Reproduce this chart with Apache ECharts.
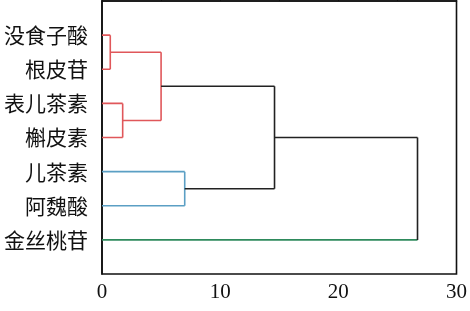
<!DOCTYPE html>
<html>
<head>
<meta charset="utf-8">
<script src="https://cdn.jsdelivr.net/npm/echarts@6/dist/echarts.min.js"></script>
<style>
  html, body { margin: 0; padding: 0; background: #fff; }
  #chart { width: 470px; height: 311px; }
</style>
</head>
<body>
<div id="chart"></div>
<script>
// leaves, top to bottom
const leaves = ["没食子酸", "根皮苷", "表儿茶素", "槲皮素", "儿茶素", "阿魏酸", "金丝桃苷"]
// merges: child a, child b (leaf index or 7+ for earlier merges), distance, cluster
const mergeA = [0, 2, 7, 4, 9, 11]
const mergeB = [1, 3, 8, 5, 10, 6]
const mergeDist = [0.7, 1.75, 5.0, 7.0, 14.6, 26.7]
const mergeGroup = ["red", "red", "red", "blue", "top", "top"]
const xTicks = [0, 10, 20, 30]

const groupColors = { red: "#e0575a", blue: "#5b9fc4", top: "#222222" }
const leafColors = { "金丝桃苷": "#2e8a5c" }

document.addEventListener("DOMContentLoaded", () => {
    const el = document.getElementById("chart")
    const chart = echarts.init(el)

    const n = leaves.length
    // node positions: [height, y]
    const nodeH = []
    const nodeY = []
    leaves.forEach((_, i) => { nodeH.push(0); nodeY.push(i + 1) })

    const series = []
    const addLine = (pts, color) => {
        series.push({
            type: "line",
            data: pts,
            symbol: "none",
            silent: true,
            animation: false,
            lineStyle: { color: color, width: 1.6 },
        })
    }

    mergeDist.forEach((h, k) => {
        const a = mergeA[k]
        const b = mergeB[k]
        const color = groupColors[mergeGroup[k]]
        const ya = nodeY[a]
        const yb = nodeY[b]
        // arms
        ;[a, b].forEach((c) => {
            const lc = c < n && leafColors[leaves[c]] ? leafColors[leaves[c]] : color
            addLine([[nodeH[c], nodeY[c]], [h, nodeY[c]]], lc)
        })
        addLine([[h, ya], [h, yb]], color)
        nodeH.push(h)
        nodeY.push((ya + yb) / 2)
    })

    const option = {
        backgroundColor: "#fff",
        grid: {
            left: 102,
            right: 13,
            top: 1,
            bottom: 37,
            show: true,
            borderColor: "#111",
            borderWidth: 1.6,
        },
        xAxis: {
            type: "value",
            min: 0,
            max: 30,
            interval: 10,
            axisLine: { lineStyle: { color: "#111", width: 1.6 } },
            axisTick: { inside: true, length: 5, lineStyle: { color: "#111" } },
            minorTick: { show: true, splitNumber: 2, length: 3, lineStyle: { color: "#111" } },
            splitLine: { show: false },
            axisLabel: {
                margin: 8,
                color: "#111",
                fontSize: 21,
                fontFamily: "Liberation Serif",
                formatter: (v) => (xTicks.includes(v) ? String(v) : ""),
            },
        },
        yAxis: {
            type: "value",
            min: 0,
            max: n + 1,
            interval: 1,
            inverse: true,
            axisLine: { lineStyle: { color: "#111", width: 1.6 } },
            axisTick: { show: false },
            splitLine: { show: false },
            axisLabel: {
                margin: 14,
                color: "#111",
                fontSize: 21,
                fontFamily: "Noto Sans CJK SC",
                formatter: (v) => (v >= 1 && v <= n ? leaves[v - 1] : ""),
            },
        },
        series: series,
    }

    chart.setOption(option)
})
</script>
</body>
</html>
